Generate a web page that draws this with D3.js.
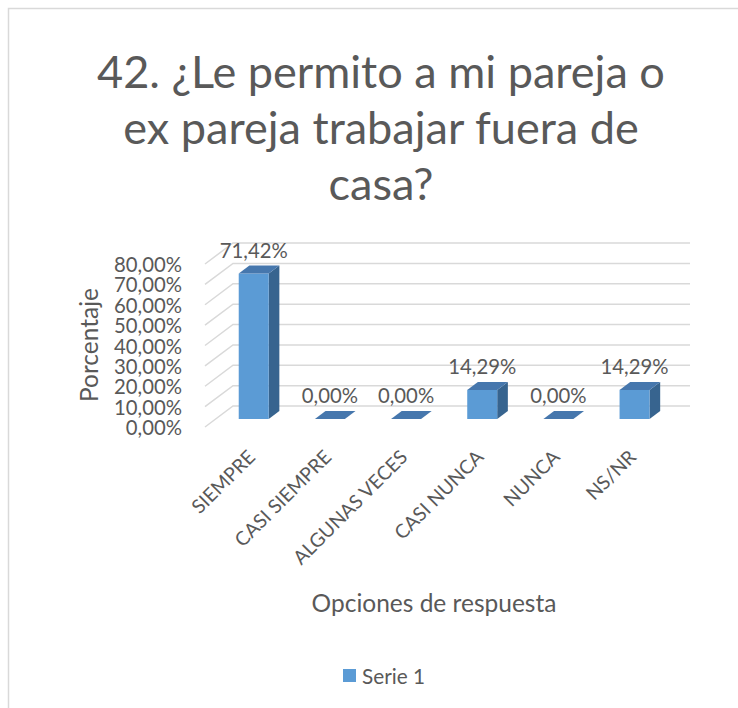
<!DOCTYPE html>
<html><head><meta charset="utf-8">
<script src="https://cdn.jsdelivr.net/npm/d3@7"></script>
<style>html,body{margin:0;padding:0;background:#fff;overflow:hidden}</style>
</head><body>
<svg id="chart" width="738" height="708"></svg>
<script>
const titleLines = ["42. ¿Le permito a mi pareja o", "ex pareja trabajar fuera de", "casa?"];
const categories = ["SIEMPRE", "CASI SIEMPRE", "ALGUNAS VECES", "CASI NUNCA", "NUNCA", "NS/NR"];
const values = [0.7142, 0, 0, 0.1429, 0, 0.1429];
const yTicks = [0, 0.1, 0.2, 0.3, 0.4, 0.5, 0.6, 0.7, 0.8];
const seriesName = "Serie 1";
const yAxisTitle = "Porcentaje";
const xAxisTitle = "Opciones de respuesta";

const locale = d3.formatLocale({decimal: ",", thousands: ".", grouping: [3], currency: ["", "€"]});
const fmt = locale.format(".2%");

const svg = d3.select("#chart");
const FONT = "Lato, 'Open Sans', sans-serif";
const TXT = "#595959";

function fitSize(text, target, base) {
  const t = svg.append("text").attr("font-family", FONT).attr("font-size", base).text(text);
  const w = t.node().getComputedTextLength();
  t.remove();
  return base * target / w;
}
const titleSize = fitSize(titleLines[0], 568, 40);
const smallSize = fitSize("80,00%", 68, 20);
const catSize = fitSize("ALGUNAS VECES", 152, 20);
const axisTitleSize = fitSize(xAxisTitle, 245, 20);
const legendSize = fitSize(seriesName, 63, 20);

// chart area border
svg.append("rect").attr("x", 8.5).attr("y", 8.5).attr("width", 800).attr("height", 800)
  .attr("fill", "#fff").attr("stroke", "#d9d9d9").attr("stroke-width", 1.5);

// title
svg.append("g").selectAll("text").data(titleLines).join("text")
  .attr("x", 381).attr("y", (d, i) => 88 + i * 56)
  .attr("text-anchor", "middle").attr("font-family", FONT).attr("font-size", titleSize)
  .attr("fill", TXT).text(d => d);

// 3D geometry
const DX = 28, DY = 21;
const y = d3.scaleLinear().domain([0, 0.8]).range([406, 243]);
const x = d3.scaleBand().domain(categories).range([205, 662]).paddingInner(0).paddingOuter(0);
const z1 = 0.38, z2 = 0.76;
const barW = x.bandwidth() * 30 / 76.2;
const P = (px, v, z) => [px + z * DX, y(v) + (1 - z) * DY];
const line = d3.line();

// gridlines (left wall diagonal + back wall)
svg.append("g").selectAll("path").data(yTicks).join("path")
  .attr("d", v => line([P(205, v, 0), P(205, v, 1), P(662, v, 1)]))
  .attr("fill", "none").attr("stroke", "#d9d9d9").attr("stroke-width", 1.5);

// y tick labels
svg.append("g").selectAll("text").data(yTicks).join("text")
  .attr("x", 182).attr("y", v => P(205, v, 0)[1])
  .attr("text-anchor", "end").attr("dominant-baseline", "central")
  .attr("font-family", FONT).attr("font-size", smallSize).attr("fill", TXT)
  .text(v => fmt(v));

// bars
const bars = svg.append("g").selectAll("g").data(categories).join("g");
const bx0 = c => x(c) + (x.bandwidth() - barW) / 2;
bars.append("path").attr("fill", "#37648f")
  .attr("d", (c, i) => { const a = bx0(c) + barW, v = values[i];
    return line([P(a, 0, z1), P(a, 0, z2), P(a, v, z2), P(a, v, z1)]) + "Z"; });
bars.append("path").attr("fill", "#5b9bd5")
  .attr("d", (c, i) => { const a = bx0(c), b = a + barW, v = values[i];
    return line([P(a, 0, z1), P(b, 0, z1), P(b, v, z1), P(a, v, z1)]) + "Z"; });
bars.append("path").attr("fill", "#4677ad")
  .attr("d", (c, i) => { const a = bx0(c), b = a + barW, v = values[i];
    return line([P(a, v, z1), P(b, v, z1), P(b, v, z2), P(a, v, z2)]) + "Z"; });

// data labels
svg.append("g").selectAll("text").data(categories).join("text")
  .attr("x", c => P(bx0(c) + barW / 2, 0, z1)[0])
  .attr("y", (c, i) => P(0, values[i], z1)[1] - 24)
  .attr("text-anchor", "middle").attr("dominant-baseline", "central")
  .attr("font-family", FONT).attr("font-size", smallSize).attr("fill", TXT)
  .text((c, i) => fmt(values[i]));

// category labels
svg.append("g").selectAll("text").data(categories).join("text")
  .attr("transform", c => `translate(${x(c) + x.bandwidth() / 2 + 8},${453}) rotate(-45)`)
  .attr("text-anchor", "end").attr("dominant-baseline", "central")
  .attr("font-family", FONT).attr("font-size", catSize).attr("fill", TXT)
  .text(c => c);

// axis titles
svg.append("text").attr("transform", "translate(88,345) rotate(-90)")
  .attr("text-anchor", "middle").attr("dominant-baseline", "central")
  .attr("font-family", FONT).attr("font-size", axisTitleSize).attr("fill", TXT).text(yAxisTitle);
svg.append("text").attr("x", 434).attr("y", 602)
  .attr("text-anchor", "middle").attr("dominant-baseline", "central")
  .attr("font-family", FONT).attr("font-size", axisTitleSize).attr("fill", TXT).text(xAxisTitle);

// legend
const lg = svg.append("g").attr("transform", "translate(343,669)");
lg.append("rect").attr("width", 13).attr("height", 13).attr("fill", "#5b9bd5");
lg.append("text").attr("x", 19).attr("y", 7).attr("dominant-baseline", "central")
  .attr("font-family", FONT).attr("font-size", legendSize).attr("fill", TXT).text(seriesName);
</script>
</body></html>
